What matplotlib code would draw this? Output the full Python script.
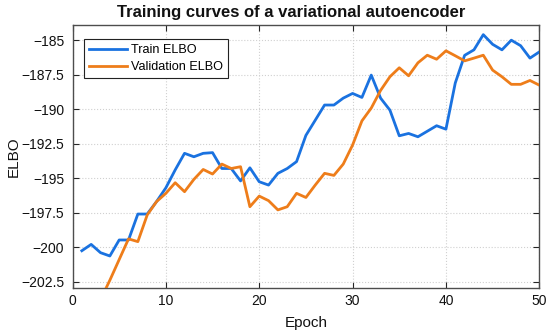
import matplotlib
matplotlib.use("Agg")
import matplotlib.pyplot as plt
import numpy as np

epochs = list(range(1, 51))
train_elbo = [-200.26, -199.8, -200.4, -200.64, -199.48, -199.48, -197.6, -197.6, -196.7, -195.7,
              -194.4, -193.2, -193.45, -193.2, -193.15, -194.3, -194.3, -195.2, -194.25, -195.26,
              -195.5, -194.65, -194.3, -193.8, -191.9, -190.8, -189.7, -189.7, -189.2, -188.86,
              -189.15, -187.53, -189.2, -190.07, -191.93, -191.76, -192.0, -191.6, -191.2, -191.45,
              -188.1, -186.1, -185.7, -184.6, -185.3, -185.7, -185.0, -185.4, -186.3, -185.85]
val_elbo = [-206.0, -205.0, -203.8, -202.4, -200.9, -199.4, -199.6, -197.67, -196.7, -196.1,
            -195.33, -195.98, -195.09, -194.37, -194.7, -193.98, -194.3, -194.17, -197.07, -196.3,
            -196.63, -197.3, -197.07, -196.1, -196.4, -195.5, -194.65, -194.8, -193.98, -192.6,
            -190.85, -189.92, -188.64, -187.65, -187.0, -187.58, -186.64, -186.09, -186.38, -185.77,
            -186.13, -186.5, -186.3, -186.09, -187.17, -187.65, -188.2, -188.2, -187.92, -188.26]
yticks = [-202.5, -200, -197.5, -195, -192.5, -190, -187.5, -185]
ytick_labels = ["\u2212202.5", "\u2212200", "\u2212197.5", "\u2212195", "\u2212192.5",
                "\u2212190", "\u2212187.5", "\u2212185"]
xticks = [0, 10, 20, 30, 40, 50]

plt.rcParams['font.family'] = ['Liberation Sans', 'DejaVu Sans']

fig = plt.figure(figsize=(5.5, 3.35), dpi=100)
ax_w = 539.3 - 72.5
ax_h = 288 - 25
ax = fig.add_axes([72.5/550, 1 - 288/335, ax_w/550, ax_h/335])

blue = '#1a72e0'
orange = '#ee7d1a'
ax.plot(epochs, train_elbo, color=blue, lw=2.0, label='Train ELBO', zorder=3)
ax.plot(epochs, val_elbo, color=orange, lw=2.0, label='Validation ELBO', zorder=3)

ax.set_xlim(0, 50)
ax.set_ylim(-202.96, -183.9)
ax.set_xticks(xticks)
ax.set_yticks(yticks)
ax.set_yticklabels(ytick_labels)
ax.tick_params(direction='in', top=True, right=True, length=4, width=0.8,
               labelsize=10, colors='#262626')
ax.tick_params(axis='y', pad=6)
ax.tick_params(axis='x', pad=4)
ax.tick_params(axis='both', labelcolor='#111111')
for s in ax.spines.values():
    s.set_color('#4d4d4d')
    s.set_linewidth(1.0)
ax.grid(True, linestyle=':', color='#d0d0d0', linewidth=0.8)
ax.set_axisbelow(True)

ax.set_xlabel('Epoch', fontsize=11, color='#111111')
ax.set_ylabel('ELBO', fontsize=11, color='#111111')
ax.xaxis.set_label_coords(0.5, -(323 - 288) / ax_h, transform=ax.transAxes)
ax.yaxis.set_label_coords(-(72.5 - 13.5) / ax_w, 0.5, transform=ax.transAxes)
ax.xaxis.label.set_verticalalignment('center')
ax.yaxis.label.set_verticalalignment('center')
ax.set_title('Training curves of a variational autoencoder', fontsize=12,
             fontweight='bold', color='#111111', pad=6, x=0.469)

leg = ax.legend(loc='upper left', fontsize=9.1, frameon=True, fancybox=False,
                edgecolor='#222222', framealpha=1, handlelength=3.0,
                handletextpad=0.3, borderpad=0.4, labelspacing=0.4,
                borderaxespad=0, bbox_to_anchor=(11.5/467, 1 - 14/263))
leg.get_frame().set_linewidth(0.8)

fig.savefig('out.png', dpi=100)
